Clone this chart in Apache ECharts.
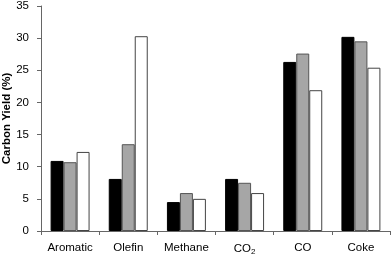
<!DOCTYPE html>
<html><head><meta charset="utf-8">
<script src="https://cdn.jsdelivr.net/npm/echarts@6/dist/echarts.min.js"></script>
<style>html,body{margin:0;padding:0;background:#fff}#c{width:392px;height:256px}</style>
</head><body><div id="c"></div>
<script>
const categories = ['Aromatic', 'Olefin', 'Methane', 'CO2', 'CO', 'Coke'];
const seriesBlack = [10.9, 8.1, 4.5, 8.1, 26.3, 30.2];
const seriesGray = [10.7, 13.5, 5.9, 7.5, 27.6, 29.5];
const seriesWhite = [12.3, 30.3, 5.0, 5.9, 21.9, 25.4];
const yTicks = [0, 5, 10, 15, 20, 25, 30, 35];

const chart = echarts.init(document.getElementById('c'), null, {renderer: 'canvas'});
const font = 'Liberation Sans, Arial, sans-serif';
function mk(name, data, color, border) {
  return {name, type: 'bar', data, barGap: '0%', barCategoryGap: '33%',
    itemStyle: {color, borderColor: border, borderWidth: 1}, animation: false};
}
chart.setOption({
  animation: false,
  grid: {left: 41, top: 6, right: 2, bottom: 25, containLabel: false, outerBoundsMode: 'none'},
  xAxis: {type: 'category', data: categories,
    axisLine: {lineStyle: {color: '#666', width: 1}},
    axisTick: {show: true, alignWithLabel: false, length: 4, lineStyle: {color: '#666'}},
    axisLabel: {interval: 0, color: '#000', fontFamily: font, fontSize: 11.5, margin: 11,
      formatter: v => v === 'CO2' ? '{n|CO}{s|2}' : v,
      rich: {n: {fontFamily: font, fontSize: 11.5, color: '#000'},
             s: {fontFamily: font, fontSize: 8, color: '#000', verticalAlign: 'bottom', padding: [6, 0, 0, 0]}}}
  },
  yAxis: {type: 'value', min: yTicks[0], max: yTicks[yTicks.length - 1], interval: 5,
    name: 'Carbon Yield (%)', nameLocation: 'middle', nameGap: 28, nameMoveOverlap: false,
    nameTextStyle: {fontFamily: font, fontSize: 11.5, fontWeight: 'bold', color: '#000'},
    axisLine: {show: true, lineStyle: {color: '#666', width: 1}},
    axisTick: {show: true, length: 4, lineStyle: {color: '#666'}},
    splitLine: {show: false},
    axisLabel: {color: '#000', fontFamily: font, fontSize: 11.5, margin: 12}
  },
  series: [
    mk('A', seriesBlack, '#000000', '#000000'),
    mk('B', seriesGray, '#a6a6a6', '#555555'),
    mk('C', seriesWhite, '#ffffff', '#444444')
  ]
});
</script></body></html>
